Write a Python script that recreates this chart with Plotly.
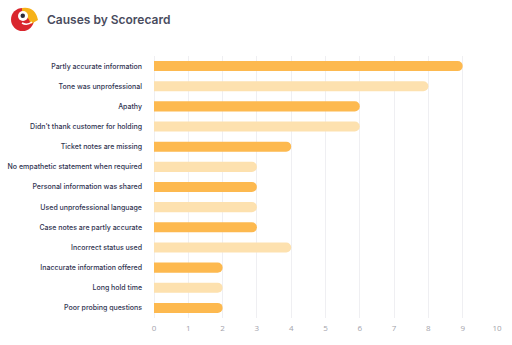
import plotly.graph_objects as go

# Scorecard causes, top to bottom
causes = [
    "Partly accurate information",
    "Tone was unprofessional",
    "Apathy",
    "Didn't thank customer for holding",
    "Ticket notes are missing",
    "No empathetic statement when required",
    "Personal information was shared",
    "Used unprofessional language",
    "Case notes are partly accurate",
    "Incorrect status used",
    "Inaccurate information offered",
    "Long hold time",
    "Poor probing questions",
]
counts = [9, 8, 6, 6, 4, 3, 3, 3, 3, 4, 2, 2, 2]
x_ticks = list(range(0, 11))

DARK = "#FDB94F"
LIGHT = "#FDE1AF"
colors = [DARK if i % 2 == 0 else LIGHT for i in range(len(causes))]

W, H = 512, 345
ML, MR, MT, MB = 154, 15, 56, 27
PW, PH = W - ML - MR, H - MT - MB


def px(x):
    return (x - ML) / PW


def py(y):
    return (H - MB - y) / PH


fig = go.Figure(
    go.Bar(
        x=counts,
        y=causes,
        orientation="h",
        marker=dict(color=colors, line=dict(width=0)),
        width=0.5,
        hoverinfo="x+y",
    )
)

# Parrot logo next to the title
shapes = [
    dict(type="circle", xref="paper", yref="paper",
         x0=px(11), x1=px(34), y0=py(31), y1=py(8),
         fillcolor="#D9262E", line=dict(width=0)),
    dict(type="path", xref="paper", yref="paper",
         path=f"M {px(22)},{py(8)} Q {px(35)},{py(6)} {px(38)},{py(20)} "
              f"L {px(31)},{py(24)} Q {px(28)},{py(16)} {px(22)},{py(14)} Z",
         fillcolor="#F6B219", line=dict(width=0)),
    dict(type="circle", xref="paper", yref="paper",
         x0=px(18), x1=px(28), y0=py(21), y1=py(11),
         fillcolor="#FFFFFF", line=dict(width=0)),
    dict(type="circle", xref="paper", yref="paper",
         x0=px(20.5), x1=px(25), y0=py(18), y1=py(13.5),
         fillcolor="#2B2B3A", line=dict(width=0)),
    dict(type="path", xref="paper", yref="paper",
         path=f"M {px(22)},{py(23)} Q {px(27)},{py(26)} {px(32)},{py(22)}",
         line=dict(color="#FFFFFF", width=1.5)),
]

fig.update_layout(
    width=W,
    height=H,
    margin=dict(l=ML, r=MR, t=MT, b=MB, autoexpand=False),
    paper_bgcolor="#FFFFFF",
    plot_bgcolor="#FFFFFF",
    barcornerradius="50%",
    showlegend=False,
    shapes=shapes,
    annotations=[
        dict(text="Causes by Scorecard", xref="paper", yref="paper",
             x=px(45), y=py(19), xanchor="left", yanchor="middle",
             showarrow=False,
             font=dict(family="Inter, Open Sans, sans-serif", size=12,
                       weight=600, color="#4A4C5E")),
    ],
    xaxis=dict(
        range=[0, 10],
        tickvals=x_ticks,
        showgrid=True,
        gridcolor="#EFEFF2",
        gridwidth=1,
        zeroline=True,
        zerolinecolor="#EFEFF2",
        zerolinewidth=1,
        showline=False,
        automargin=False,
        tickfont=dict(family="Open Sans, sans-serif", size=8, color="#A3A3AB"),
        ticks="",
        ticklabelstandoff=4,
        fixedrange=True,
    ),
    yaxis=dict(
        categoryorder="array",
        categoryarray=causes[::-1],
        showgrid=False,
        showline=False,
        zeroline=False,
        automargin=False,
        ticks="",
        ticklabelstandoff=11,
        tickfont=dict(family="Inter, Open Sans, sans-serif", size=7,
                      weight=500, color="#2F3350"),
        fixedrange=True,
    ),
    bargap=0.5,
    font=dict(family="Inter, Open Sans, sans-serif"),
)

fig.write_html("out.html")
